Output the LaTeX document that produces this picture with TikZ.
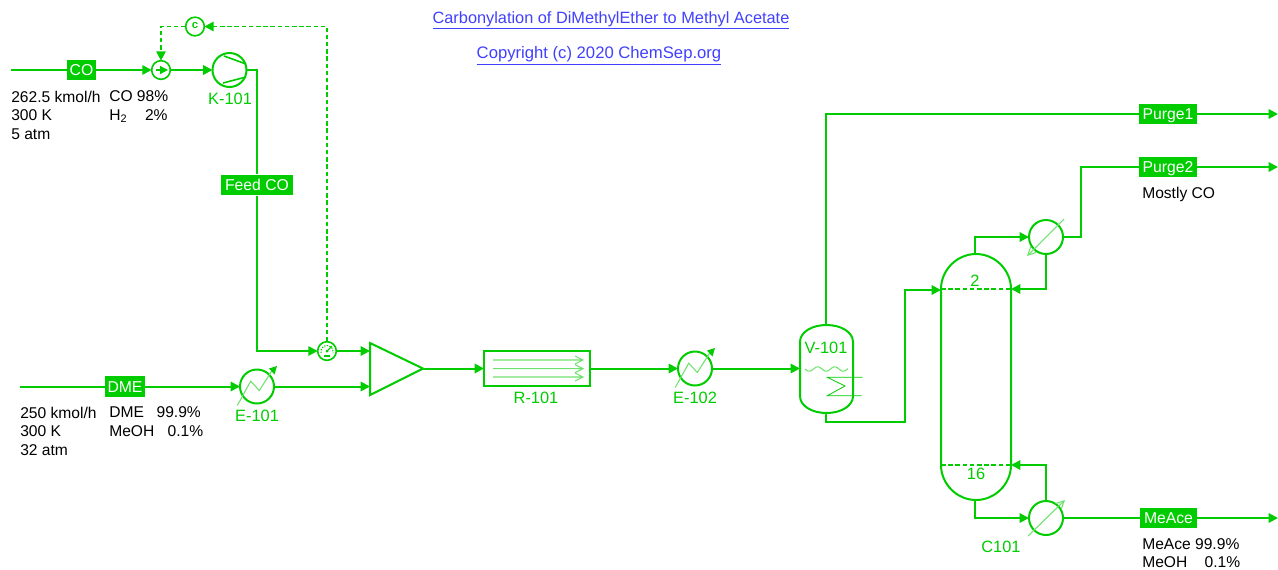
\documentclass[tikz,border=0pt]{standalone}
\usepackage{fontspec}
\setmainfont{Liberation Sans}
\usetikzlibrary{arrows.meta,calc}
\definecolor{cgreen}{RGB}{0,204,0}
\definecolor{lgreen}{RGB}{110,226,110}
\definecolor{cblue}{RGB}{64,64,255}
\newcommand{\exch}[1]{%
  \draw[thinline] ($(#1)+(-19.7,19)$) -- ($(#1)+(-6.3,-5.3)$) -- ($(#1)+(2.3,4)$) -- ($(#1)+(15.7,-17)$);
  \fill[cgreen] ($(#1)+(20,-20.5)$) -- ($(#1)+(12,-18)$) -- ($(#1)+(17.5,-12)$) -- cycle;}
\tikzset{
  px/.style={x=0.75pt,y=-0.75pt},
  mainline/.style={draw=cgreen,line width=1.5pt},
  flow/.style={mainline,-{Triangle[length=7pt,width=7pt]}},
  ctrl/.style={draw=cgreen,line width=1.4pt,dash pattern=on 3.4pt off 2pt},
  ctrlarrow/.style={ctrl,-{Triangle[length=7pt,width=7pt]}},
  thinline/.style={draw=lgreen,line width=0.8pt},
  tag/.style={fill=cgreen,text=white,inner sep=0pt,minimum height=15.5pt,text height=8.5pt,text depth=0pt,font=\fontsize{11.8}{13}\selectfont},
  unit/.style={circle,draw=cgreen,line width=1.5pt,inner sep=0pt,outer sep=0pt,minimum size=25.5pt,fill=white},
  small/.style={circle,draw=cgreen,line width=1.2pt,inner sep=0pt,outer sep=0pt,minimum size=14pt,fill=white},
  glabel/.style={text=cgreen,inner sep=0pt,font=\fontsize{12.3}{13}\selectfont},
  info/.style={anchor=north west,align=left,inner sep=0pt,font=\fontsize{11.7}{13.9}\selectfont},
  title/.style={text=cblue,inner sep=0pt,font=\fontsize{12.25}{13}\selectfont}
}
\begin{document}
\begin{tikzpicture}[px]
\useasboundingbox (0,0) rectangle (1278,569);
% titles
\node[title] (t1) at (611,20.5) {\underline{Carbonylation of DiMethylEther to Methyl Acetate}};
\node[title,font=\fontsize{12.5}{13}\selectfont] (t2) at (599,55.5) {\underline{Copyright (c) 2020 ChemSep.org}};
% free ends
\coordinate (coin) at (11,70);
\coordinate (dmein) at (20,386.5);
\coordinate (p1out) at (1278,114);
\coordinate (p2out) at (1278,167);
\coordinate (meout) at (1278,518);
\coordinate (mixa) at (370,351);
\coordinate (mixb) at (370,386.5);
\coordinate (mixo) at (423,368.5);
\coordinate (vtop) at (826,325);
\coordinate (vbot) at (826,413);
\coordinate (vin) at (800,368.5);
\coordinate (coltop) at (975,254);
\coordinate (colbot) at (975,500);
\coordinate (colf) at (941,290);
\coordinate (colr1) at (1011,289);
\coordinate (colr2) at (1011,465);
% tags
\node[tag,minimum width=21.5pt] (co) at (81.5,70) {CO};
\node[tag,minimum width=30pt] (dme) at (125,386.5) {DME};
\node[tag,minimum width=54pt] (feed) at (257,185) {Feed CO};
\node[tag,minimum width=43pt] (purge1) at (1168,114) {Purge1};
\node[tag,minimum width=43pt] (purge2) at (1168,167) {Purge2};
\node[tag,minimum width=43pt] (meace) at (1168.5,518) {MeAce};
% units
\node[small] (v1) at (161,70) {};
\node[small] (cc) at (195,26.5) {};
\node[unit] (k) at (229.5,70) {};
\node[small] (v2) at (327,351) {};
\node[unit] (e1) at (257,386.5) {};
\node[unit] (e2) at (695,368.5) {};
\node[unit] (cond) at (1046,237) {};
\node[unit] (reb) at (1046,518) {};
\node[draw=cgreen,line width=1.5pt,minimum width=79.5pt,minimum height=26.25pt,inner sep=0pt,outer sep=0pt] (r1) at (537,368.5) {};
% column
\draw[mainline] (941,465) -- (941,289) .. controls (941,270) and (957,254) .. (976,254) .. controls (995,254) and (1011,270) .. (1011,289) -- (1011,465) .. controls (1011,484) and (995,500) .. (976,500) .. controls (957,500) and (941,484) .. (941,465);
\draw[ctrl] (941,289) -- (1011,289);
\draw[ctrl] (941,465) -- (1011,465);
\node[glabel] (n2) at (975,281) {2};
\node[glabel] (n16) at (976,474) {16};
% vessel
\draw[mainline] (800,342) .. controls (800,332) and (812,325) .. (826.5,325) .. controls (841,325) and (853,332) .. (853,342) -- (853,396) .. controls (853,406) and (841,413) .. (826.5,413) .. controls (812,413) and (800,406) .. (800,396) -- cycle;
\draw[thinline] plot[domain=805:848,samples=40] (\x,{369+2.2*sin((\x-805)*360/17)});
\draw[draw=cgreen,line width=0.6pt] (862.7,377.3) -- (827.3,377.3) -- (845,386) -- (827.3,395.7) -- (861.7,395.7);
% mixer
\draw[mainline,line join=miter] (370,343) -- (423,368.5) -- (370,395) -- cycle;
% reactor
\foreach \yy in {360,368.7,377}{
  \draw[thinline] (493,\yy) -- (583,\yy) (575,\yy-4) -- (583,\yy) -- (575,\yy+4);
}
% compressor
\draw[draw=cgreen,line width=1.2pt] (224,56) -- (246,64) (223,83) -- (246,77);
% exchangers
\exch{e1}
\exch{e2}
\draw[thinline,-{Straight Barb[length=6pt,width=6pt]}] (1064,219) -- (1027,256);
\draw[thinline,-{Straight Barb[length=6pt,width=6pt]}] (1028,536) -- (1065,500);
% control valve inner
\draw[draw=cgreen,line width=1pt,-{Triangle[length=6pt,width=6pt]}] (155.5,70) -- (168,70);
\node[glabel,font=\bfseries\fontsize{8.5}{9}\selectfont] (clab) at (195,26) {c};
% gauge
\draw[draw=cgreen,line width=0.8pt] (327,351) -- (332,346);
\draw[draw=cgreen,line width=0.8pt,dash pattern=on 1pt off 1pt] (321,353) .. controls (320,343) and (334,343) .. (333,353);
\fill[cgreen] (327,351) circle[radius=1.5];
\draw[draw=cgreen,line width=0.8pt] (324,356) -- (330,356);
% connectors
\draw[mainline] (coin) -- (co.west);
\draw[flow] (co.east) -- (v1.west);
\draw[flow] (v1.east) -- (k.west);
\draw[mainline] (k.east) -| (feed.north);
\draw[flow] (feed.south) |- (v2.west);
\draw[flow] (v2.east) -- (mixa);
\draw[mainline] (dmein) -- (dme.west);
\draw[flow] (dme.east) -- (e1.west);
\draw[flow] (e1.east) -- (mixb);
\draw[flow] (mixo) -- (r1.west);
\draw[flow] (r1.east) -- (e2.west);
\draw[flow] (e2.east) -- (vin);
\draw[mainline] (vtop) |- (purge1.west);
\draw[flow] (purge1.east) -- (p1out);
\draw[flow] (vbot) -- ++(0,8.5) -- ++(79,0) -- ++(0,-131.5) -- (colf);
\draw[flow] (coltop) |- (cond.west);
\draw[flow] (cond.south) |- (colr1);
\draw[mainline] (cond.east) -- ++(18,0) |- (purge2.west);
\draw[flow] (purge2.east) -- (p2out);
\draw[flow] (colbot) |- (reb.west);
\draw[flow] (reb.north) |- (colr2);
\draw[mainline] (reb.east) -- (meace.west);
\draw[flow] (meace.east) -- (meout);
\draw[ctrlarrow] (v2.north) |- (cc.east);
\draw[ctrlarrow] (cc.west) -| (v1.north);
% labels
\node[glabel] (lk) at (230,98.5) {K-101};
\node[glabel] (le1) at (257,415.5) {E-101};
\node[glabel] (lr) at (536,397.5) {R-101};
\node[glabel] (le2) at (695,397.5) {E-102};
\node[glabel] (lv) at (826,348) {V-101};
\node[glabel] (lc) at (1001,547) {C101};
% info
\node[info] (i1) at (11,90.5) {262.5 kmol/h\\300 K\\5 atm};
\node[info] (i2) at (109,90.5) {CO 98\%\\H\textsubscript{2}\hspace{13.3pt}2\%};
\node[info] (i3) at (20,406.5) {250 kmol/h\\300 K\\32 atm};
\node[info] (i4) at (109,406.5) {DME\hspace{9.5pt}99.9\%\\MeOH\hspace{10pt}0.1\%};
\node[info] (i5) at (1142,186.5) {Mostly CO};
\node[info] (i6) at (1142,538) {MeAce 99.9\%\\MeOH\hspace{13pt}0.1\%};
\end{tikzpicture}
\end{document}
